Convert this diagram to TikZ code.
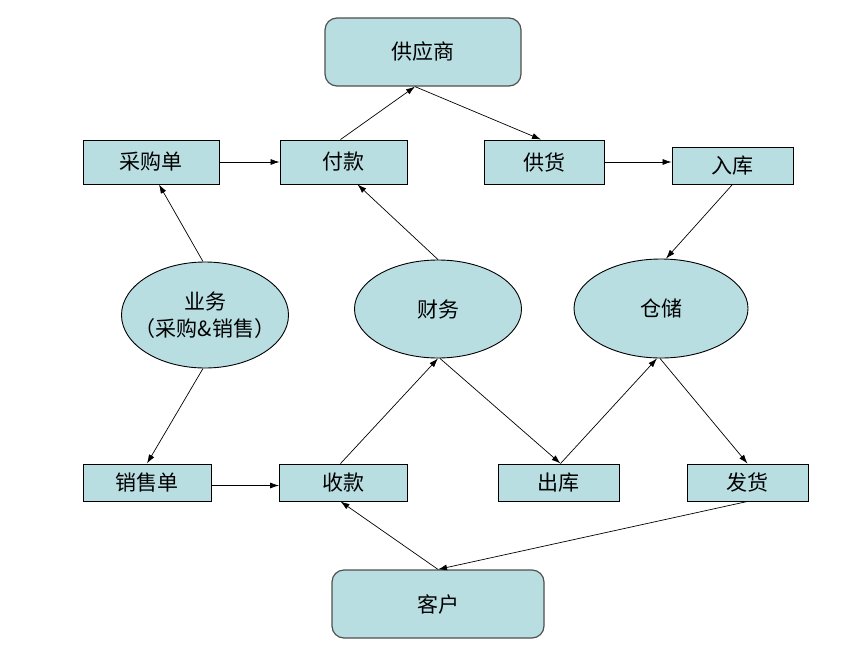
\documentclass[tikz,border=0pt]{standalone}
\usepackage{fontspec}
\setmainfont{Noto Sans CJK SC}
\usetikzlibrary{shapes.geometric,arrows.meta}
\definecolor{boxfill}{RGB}{185,222,226}
\definecolor{rborder}{RGB}{80,80,80}
\tikzset{
  base/.style={fill=boxfill,draw=black,line width=0.9pt,inner sep=0pt,font=\fontsize{21}{27}\selectfont},
  sqbox/.style={base,rectangle,minimum height=38pt},
  rbox/.style={base,rectangle,rounded corners=12pt,draw=rborder,line width=1.2pt,minimum width=196pt,minimum height=68pt},
  oval/.style={base,ellipse,align=center},
  plaintext/.style={inner sep=0pt,align=center,font=\fontsize{21}{27}\selectfont},
  conn/.style={line width=0.7pt,-{Latex[length=9pt,width=6pt]}}
}
\begin{document}
\begin{tikzpicture}[x=1pt,y=-1pt]
\useasboundingbox[fill=white] (0,0) rectangle (858,669);
% top
\node[rbox] (gys) at (423,52) {供应商};
% upper row
\node[sqbox,minimum width=136pt,minimum height=44pt] (cgd) at (151,162) {采购单};
\node[sqbox,minimum width=127pt,minimum height=44pt] (fk) at (343.5,162) {付款};
\node[sqbox,minimum width=120pt,minimum height=44pt] (gh) at (544,162) {供货};
\node[sqbox,minimum width=121pt,minimum height=37pt] (rk) at (732.5,165.5) {入库};
% ellipses
\node[oval,minimum width=167pt,minimum height=106pt] (yw) at (205,315) {};
\node[plaintext] (ywt) at (yw.center) {业务\\（采购\&销售）};
\node[oval,minimum width=167pt,minimum height=98pt] (cw) at (438,309) {财务};
\node[oval,minimum width=174pt,minimum height=99pt] (cc) at (661,308.5) {仓储};
% lower row
\node[sqbox,minimum width=128pt,minimum height=37pt] (xsd) at (147,482.5) {销售单};
\node[sqbox,minimum width=128pt,minimum height=37pt] (sk) at (343.5,482.5) {收款};
\node[sqbox,minimum width=121pt,minimum height=37pt] (ck) at (558.5,482.5) {出库};
\node[sqbox,minimum width=121pt,minimum height=37pt] (fh) at (747.5,482.5) {发货};
% bottom
\node[rbox,minimum width=212pt,minimum height=68pt] (kh) at (438,604) {客户};
% connectors
\draw[conn] (cgd.east) -- (fk.west);
\draw[conn] ([xshift=-3pt]fk.north) -- ([xshift=-8pt]gys.south);
\draw[conn] ([xshift=-8pt]gys.south) -- ([xshift=-3pt]gh.north);
\draw[conn] (gh.east) -- (gh.east -| rk.west);
\draw[conn] (rk.south) -- ([xshift=5pt]cc.north);
\draw[conn] ([xshift=-2pt]yw.north) -- ([xshift=8pt]cgd.south);
\draw[conn] (cw.north) -- ([xshift=14pt]fk.south);
\draw[conn] ([xshift=-2pt]yw.south) -- (xsd.north);
\draw[conn] ([yshift=-3pt]xsd.east) -- ([yshift=-3pt]sk.west);
\draw[conn] ([xshift=-3pt]sk.north) -- (cw.south);
\draw[conn] ([xshift=2pt]cw.south) -- ([xshift=2pt]ck.north);
\draw[conn] ([xshift=2pt]ck.north) -- ([xshift=-4pt]cc.south);
\draw[conn] ([xshift=-1pt]cc.south) -- (fh.north);
\draw[conn] (kh.north) -- ([xshift=-3pt]sk.south);
\draw[conn] (fh.south) -- (kh.north);
\end{tikzpicture}
\end{document}
